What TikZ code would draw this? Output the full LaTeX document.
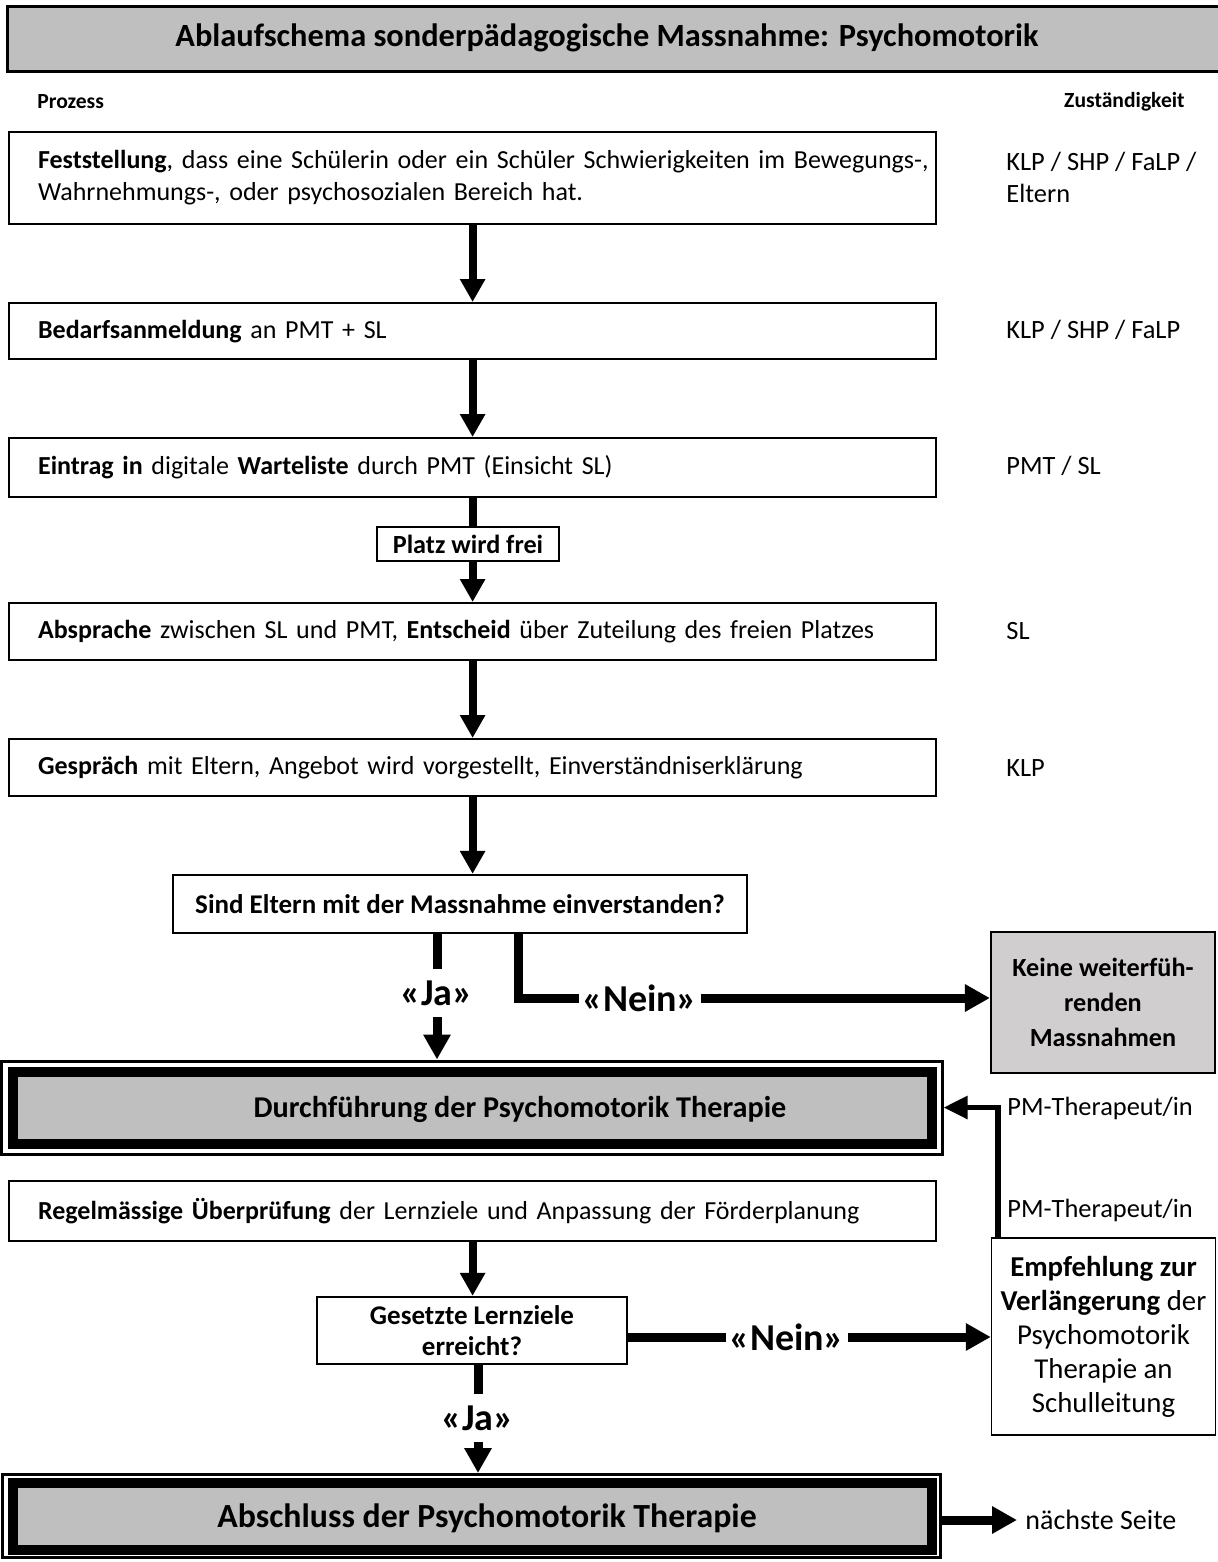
\documentclass[tikz,border=0pt]{standalone}
\usepackage{fontspec}
\setmainfont{Carlito}
\usetikzlibrary{arrows.meta}
\definecolor{hdrgray}{HTML}{BFBFBF}
\definecolor{endgray}{HTML}{D0CECE}

\tikzset{
  procbox/.style={draw, line width=1.1pt, anchor=north west, text width=434.5pt,
    align=left, inner xsep=14.5pt, inner ysep=0pt, font=\fontsize{13}{16}\selectfont},
  qbox/.style={draw, line width=1.1pt, align=center, inner sep=0pt,
    font=\bfseries\fontsize{13.5}{15.5}\selectfont},
  resp/.style={anchor=west, inner sep=0pt, align=left, font=\fontsize{13.2}{16}\selectfont},
  colhead/.style={inner sep=0pt, font=\bfseries\fontsize{10.8}{13}\selectfont},
  sidebox/.style={draw, align=center, inner sep=0pt, minimum width=112pt},
  answer/.style={inner xsep=1.5pt, inner ysep=0pt, minimum height=24pt,
    font=\bfseries\fontsize{19}{21}\selectfont},
  flowarrow/.style={line width=4pt, -{Triangle[length=11.5pt,width=12pt]}},
  bigarrow/.style={line width=4.5pt, -{Triangle[length=12.5pt,width=13pt]}},
  backarrow/.style={line width=2.8pt, -{Triangle[length=12pt,width=11pt]}},
  heavyline/.style={line width=4.5pt},
  framebox/.style={draw, line width=1.5pt},
  stagebox/.style={draw, line width=5pt, fill=hdrgray, inner sep=0pt},
}

\begin{document}
\begin{tikzpicture}[x=0.5pt, y=-0.5pt]
\useasboundingbox (0,0) rectangle (1217,1562);

% header
\node[draw, line width=1.5pt, fill=hdrgray, anchor=north west, minimum width=620pt,
      minimum height=32.5pt, inner sep=0pt] (hdr) at (6,5) {};
\node[font=\bfseries\fontsize{16.2}{19}\selectfont] (title) at (607,38)
  {Ablaufschema sonderpädagogische Massnahme: Psychomotorik};
\node[colhead, anchor=west] (prozess) at (37,102) {Prozess};
\node[colhead, anchor=east] (zust) at (1185,102) {Zuständigkeit};

% process steps
\node[procbox, minimum height=46pt] (b1) at (8,131)
  {\mbox{\textbf{Feststellung}, dass eine Schülerin oder ein Schüler Schwierigkeiten im Bewegungs-,}\\
   \mbox{Wahrnehmungs-, oder psychosozialen Bereich hat.}};
\node[procbox, minimum height=28pt] (b2) at (8,302)
  {\mbox{\textbf{Bedarfsanmeldung} an PMT + SL}};
\node[procbox, minimum height=29.5pt] (b3) at (8,437)
  {\mbox{\textbf{Eintrag in} digitale \textbf{Warteliste} durch PMT (Einsicht SL)}};
\node[procbox, minimum height=28.5pt] (b4) at (8,602)
  {\mbox{\textbf{Absprache} zwischen SL und PMT, \textbf{Entscheid} über Zuteilung des freien Platzes}};
\node[procbox, minimum height=28.5pt] (b5) at (8,738)
  {\mbox{\textbf{Gespräch} mit Eltern, Angebot wird vorgestellt, Einverständniserklärung}};

% responsibilities
\node[resp] (r1) at (1006,177) {KLP / SHP / FaLP /\\Eltern};
\node[resp] (r2) at (1006,330) {KLP / SHP / FaLP};
\node[resp] (r3) at (1006,466) {PMT / SL};
\node[resp] (r4) at (1006,631) {SL};
\node[resp] (r5) at (1006,768) {KLP};

% arrows between steps
\draw[flowarrow] (b1.south) -- (b2.north);
\draw[flowarrow] (b2.south) -- (b3.north);
\draw[flowarrow] (b3.south) -- (b4.north);
\node[draw, line width=0.8pt, fill=white, minimum width=91pt, minimum height=17pt,
      inner sep=0pt, font=\bfseries\fontsize{13.1}{15}\selectfont] (platz) at (468,544) {Platz wird frei};
\draw[flowarrow] (b4.south) -- (b5.north);

% first decision
\node[qbox, minimum width=287pt, minimum height=29pt] (dec1) at (460,904)
  {Sind Eltern mit der Massnahme einverstanden?};
\draw[flowarrow] (b5.south) -- (b5.south |- dec1.north);

\node[sidebox, line width=1.1pt, fill=endgray, minimum height=70.5pt,
      font=\bfseries\fontsize{13.1}{17.5}\selectfont] (keine) at (1103,1002.5)
  {Keine weiterfüh-\\renden\\Massnahmen};

\node[answer] (ja1) at (437,993) {«Ja»};
\node[answer] (nein1) at (640,998) {«Nein»};
\draw[heavyline] (dec1.south -| ja1) -- (ja1.north);
\draw[heavyline] ([xshift=29pt]dec1.south) |- (nein1.west);
\draw[bigarrow] (nein1.east) -- (keine.west |- nein1);

% therapy stage
\node[framebox, minimum width=470.5pt, minimum height=46.5pt, inner sep=0pt] (durchframe) at (471.5,1107.5) {};
\node[stagebox, minimum width=459.5pt, minimum height=36pt] (durch) at (472.5,1107.5) {};
\node[font=\bfseries\fontsize{15.1}{18}\selectfont] (durchtext) at (520,1109)
  {Durchführung der Psychomotorik Therapie};
\draw[bigarrow] (ja1.south) -- (ja1 |- durchframe.north);

\node[resp] (r6) at (1007,1108) {PM-Therapeut/in};
\node[resp] (r7) at (1007,1210) {PM-Therapeut/in};

\node[procbox, minimum height=30pt] (b6) at (8,1180)
  {\mbox{\textbf{Regelmässige Überprüfung} der Lernziele und Anpassung der Förderplanung}};

% second decision
\node[qbox, minimum width=155pt, minimum height=33.5pt] (dec2) at (472,1330.5)
  {Gesetzte Lernziele\\erreicht?};
\draw[flowarrow] (b6.south) -- (b6.south |- dec2.north);

\node[sidebox, line width=0.7pt, minimum height=98.5pt,
      font=\fontsize{14.4}{17}\selectfont] (empf) at (1103.5,1336.5)
  {\textbf{Empfehlung zur}\\\textbf{Verlängerung} der\\Psychomotorik\\Therapie an\\Schulleitung};

\node[answer] (nein2) at (787,1337) {«Nein»};
\draw[heavyline] (dec2.east |- nein2) -- (nein2.west);
\draw[bigarrow] (nein2.east) -- (empf.west |- nein2);

\draw[backarrow] ([xshift=3.5pt]empf.north west) |- (durchframe.east);

% closing stage
\node[answer] (ja2) at (478,1418) {«Ja»};
\draw[heavyline] (dec2.south -| ja2) -- (ja2.north);

\node[framebox, minimum width=469pt, minimum height=41.5pt, inner sep=0pt] (abschframe) at (471.5,1516) {};
\node[stagebox, minimum width=459.5pt, minimum height=33.5pt] (absch) at (472.5,1516) {};
\node[font=\bfseries\fontsize{16.9}{19}\selectfont] (abschtext) at (487,1518)
  {Abschluss der Psychomotorik Therapie};
\draw[bigarrow] (ja2.south) -- (ja2 |- abschframe.north);

\node[resp, inner xsep=4pt, font=\fontsize{14}{16}\selectfont] (next) at (1017,1520) {nächste Seite};
\draw[bigarrow] (abschframe.east |- next) -- (next.west);
\end{tikzpicture}
\end{document}
